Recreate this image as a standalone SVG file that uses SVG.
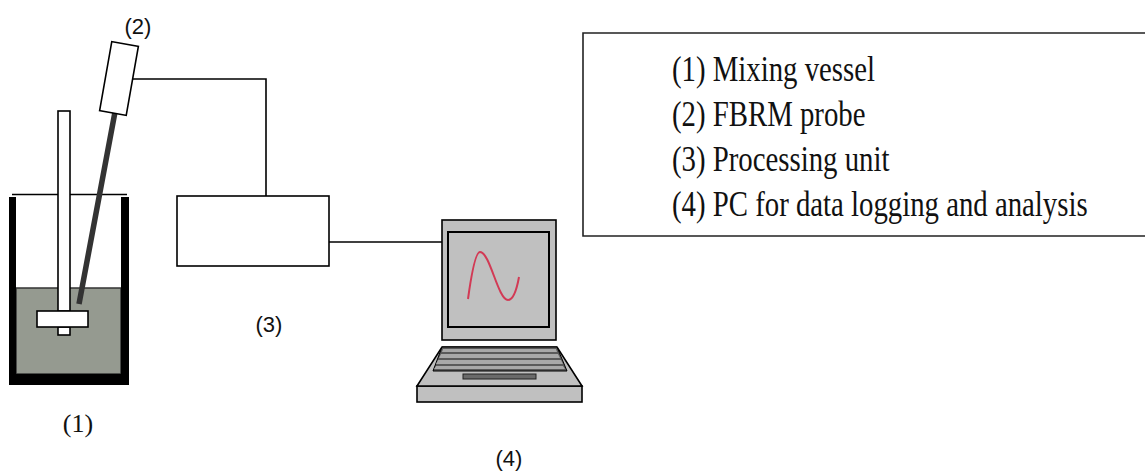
<svg xmlns="http://www.w3.org/2000/svg" width="1145" height="475" viewBox="0 0 1145 475">
  <style>
    .outline { stroke: #000; stroke-width: 1.6; }
    .wire { fill: none; stroke: #000; stroke-width: 1.6; }
    .tag { font-family: "Liberation Sans", Arial, sans-serif; font-size: 22px; fill: #111; text-anchor: middle; }
    .tag-serif { font-family: "Liberation Serif", "Times New Roman", serif; font-size: 26px; fill: #111; text-anchor: middle; }
    .legend { font-family: "Liberation Serif", "Times New Roman", serif; font-size: 36px; fill: #111; }
  </style>
  <rect width="1145" height="475" fill="#fff"/>

  <!-- (1) mixing vessel with stirrer -->
  <g id="vessel">
    <rect x="16" y="288" width="105" height="86" fill="#959a90" stroke="#333" stroke-width="1.5"/>
    <path d="M9,197 H16 V374 H121 V197 H129 V385 H9 Z" fill="#000"/>
    <line x1="12" y1="194.5" x2="127" y2="194.5" stroke="#000" stroke-width="1.5"/>
    <rect x="58" y="111" width="12" height="200" fill="#fff" class="outline"/>
    <rect x="58" y="327" width="12" height="8" fill="#fff" class="outline"/>
    <rect x="37" y="311" width="51" height="16" fill="#fff" class="outline"/>
  </g>

  <!-- (2) FBRM probe -->
  <g id="probe">
    <line x1="115" y1="112" x2="79" y2="304" stroke="#333" stroke-width="5.5"/>
    <rect x="-13.5" y="-35" width="27" height="70" fill="#fff" class="outline" transform="translate(119,78.5) rotate(10)"/>
  </g>

  <!-- (3) processing unit -->
  <g id="processing-unit">
    <rect x="177" y="196" width="152" height="70" fill="#fff" class="outline"/>
  </g>

  <!-- (4) laptop -->
  <g id="pc">
    <rect x="442" y="220" width="114" height="120" fill="#c0c0c0" class="outline"/>
    <rect x="448" y="232" width="101" height="95" fill="#c0c0c0" stroke="#000" stroke-width="2"/>
    <path d="M468,299 C472,270 476,252 480,252 C490,252 498,300 508,300 C514,300 517,288 519,277" fill="none" stroke="#d23a55" stroke-width="2"/>
    <rect x="417" y="386" width="165" height="16" fill="#c0c0c0" class="outline"/>
    <polygon points="442,347 557,347 582,386 417,386" fill="#c0c0c0" class="outline"/>
    <polygon points="442,347 557,347 567,371 433,371" fill="#5a5a5a" stroke="#000" stroke-width="1"/>
    <polygon points="443,349 556,349 557,352 442,352" fill="#a8a8a8"/>
    <polygon points="441,354 558,354 560,358 439,358" fill="#a8a8a8"/>
    <polygon points="438,360 561,360 563,364 436,364" fill="#a8a8a8"/>
    <polygon points="436,366 563,366 565,369 434,369" fill="#a8a8a8"/>
    <rect x="463" y="374" width="73" height="5" fill="#6a6a6a" stroke="#222" stroke-width="1"/>
  </g>

  <!-- legend: frame runs off the right edge, so only three sides are drawn -->
  <g id="legend">
    <path d="M1145,33 H583 V236 H1145" fill="#fff" stroke="#222" stroke-width="1.6"/>
    <!-- condensed serif lettering -->
    <g transform="translate(672,0) scale(0.8,1)">
      <text class="legend" x="0" y="81">(1) Mixing vessel</text>
      <text class="legend" x="0" y="126">(2) FBRM probe</text>
      <text class="legend" x="0" y="171">(3) Processing unit</text>
      <text class="legend" x="0" y="216">(4) PC for data logging and analysis</text>
    </g>
  </g>

  <!-- cables -->
  <g id="connectors">
    <polyline class="wire" points="133,79 266,79 266,196"/>
    <line class="wire" x1="329" y1="242" x2="442" y2="242"/>
  </g>

  <!-- item numbers -->
  <g id="labels">
    <text class="tag-serif" x="78" y="432">(1)</text>
    <text class="tag" x="138" y="34">(2)</text>
    <text class="tag" x="269" y="332">(3)</text>
    <text class="tag" x="509" y="466">(4)</text>
  </g>
</svg>
